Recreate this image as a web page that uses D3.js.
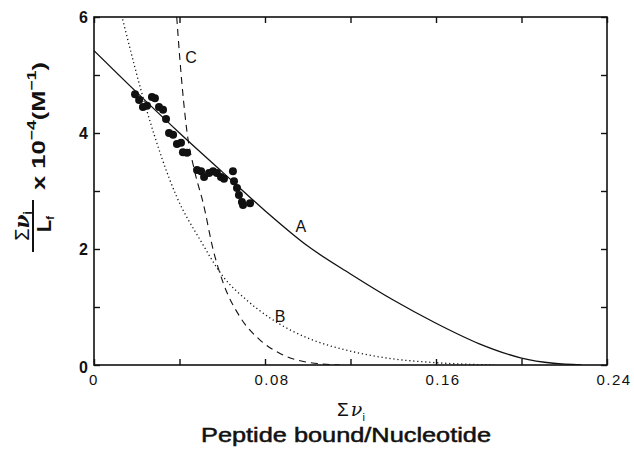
<!DOCTYPE html>
<html><head><meta charset="utf-8">
<script src="https://cdn.jsdelivr.net/npm/d3@7"></script>
<style>body{margin:0;background:#fff}svg{display:block}text{font-family:"Liberation Sans",Arial,sans-serif;fill:#111}</style>
</head><body><div id="c"></div>
<script>
// Data points: [sum nu_i, sum nu_i / Lf x 1e-4]
const pointsX = [0.0192,0.0211,0.0229,0.0248,0.0271,0.0285,0.0304,0.0323,0.0337,0.0351,0.0370,0.0388,0.0407,0.0416,0.0435,0.0482,0.0501,0.0515,0.0538,0.0557,0.0575,0.0594,0.0608,0.0650,0.0655,0.0669,0.0678,0.0692,0.0697,0.0730];
const pointsY = [4.67,4.57,4.45,4.47,4.62,4.60,4.45,4.40,4.24,4.00,3.97,3.81,3.83,3.67,3.66,3.36,3.34,3.24,3.31,3.34,3.31,3.24,3.21,3.34,3.17,3.05,2.93,2.81,2.76,2.79];
// Curve A (solid)
const curveAX = [0,0.02,0.04,0.06,0.08,0.10,0.12,0.14,0.16,0.18,0.20,0.215,0.228];
const curveAY = [5.42,4.70,4.00,3.33,2.66,2.05,1.57,1.12,0.72,0.37,0.12,0.03,0];
// Curve B (dotted)
const curveBX = [0.0134,0.0246,0.0387,0.0496,0.0605,0.0714,0.082,0.092,0.101,0.121,0.137,0.16,0.187];
const curveBY = [5.96,4.40,2.90,2.16,1.52,1.12,0.82,0.60,0.45,0.23,0.12,0.04,0];
// Curve C (dashed)
const curveCX = [0.0387,0.0402,0.0434,0.0473,0.0511,0.0558,0.0605,0.0683,0.0777,0.087,0.098,0.115];
const curveCY = [6.0,5.26,4.05,3.31,2.79,1.98,1.41,0.83,0.43,0.20,0.06,0];
const xTicks = [0,0.04,0.08,0.12,0.16,0.20,0.24];
const xTickLabels = ["0","","0.08","","0.16","","0.24"];
const yTicks = [0,1,2,3,4,5,6];
const yTickLabels = ["0","","2","","4","","6"];
const curveLabels = [{t:"A",x:0.0968,y:2.29},{t:"B",x:0.087,y:0.74},{t:"C",x:0.0454,y:5.2}];

const W=634,H=450, L=94,R=607,T=17,B=365;
const svg=d3.select("#c").append("svg").attr("width",W).attr("height",H);
const x=d3.scaleLinear().domain([0,0.24]).range([L,R]);
const y=d3.scaleLinear().domain([0,6]).range([B,T]);

svg.append("defs").append("clipPath").attr("id","clip").append("rect")
  .attr("x",L).attr("y",T).attr("width",R-L).attr("height",B-T);

// frame
svg.append("rect").attr("x",L).attr("y",T).attr("width",R-L).attr("height",B-T)
  .attr("fill","none").attr("stroke","#111").attr("stroke-width",1.6);

// axes ticks (inward)
const axB=svg.append("g").attr("transform",`translate(0,${B})`)
  .call(d3.axisBottom(x).tickValues(xTicks).tickSize(-6).tickFormat(""));
const axT=svg.append("g").attr("transform",`translate(0,${T})`)
  .call(d3.axisTop(x).tickValues(xTicks).tickSize(-6).tickFormat(""));
const axL=svg.append("g").attr("transform",`translate(${L},0)`)
  .call(d3.axisLeft(y).tickValues(yTicks).tickSize(-6).tickFormat(""));
const axR=svg.append("g").attr("transform",`translate(${R},0)`)
  .call(d3.axisRight(y).tickValues(yTicks).tickSize(-6).tickFormat(""));
[axB,axT,axL,axR].forEach(a=>{a.select(".domain").remove();a.selectAll("line").attr("stroke","#111").attr("stroke-width",1.4);});

// tick labels
svg.append("g").selectAll("text").data(xTicks).join("text")
  .attr("x",(d,i)=>x(d)+(i===0?0:7)).attr("y",B+20).attr("text-anchor","middle")
  .attr("font-size",15).attr("letter-spacing",1.5).text((d,i)=>xTickLabels[i]);
svg.append("g").selectAll("text").data(yTicks).join("text")
  .attr("x",L-6).attr("y",d=>y(d)+(d===0?8:6)).attr("text-anchor","end")
  .attr("font-size",16).attr("font-weight","bold").text((d,i)=>yTickLabels[i]);

const g=svg.append("g").attr("clip-path","url(#clip)");
const line=d3.line().x(d=>x(d[0])).y(d=>y(d[1])).curve(d3.curveMonotoneX);
g.append("path").datum(d3.zip(curveAX,curveAY)).attr("d",line).attr("fill","none").attr("stroke","#111").attr("stroke-width",1.3);
g.append("path").datum(d3.zip(curveBX,curveBY)).attr("d",line).attr("fill","none").attr("stroke","#111").attr("stroke-width",1.3).attr("stroke-dasharray","1.2,2.8");
g.append("path").datum(d3.zip(curveCX,curveCY)).attr("d",line).attr("fill","none").attr("stroke","#111").attr("stroke-width",1.1).attr("stroke-dasharray","7,5");

g.selectAll("circle").data(d3.zip(pointsX,pointsY)).join("circle")
  .attr("cx",d=>x(d[0])).attr("cy",d=>y(d[1])).attr("r",4).attr("fill","#111");

svg.append("g").selectAll("text").data(curveLabels).join("text")
  .attr("x",d=>x(d.x)).attr("y",d=>y(d.y)).attr("text-anchor","middle")
  .attr("font-size",16).text(d=>d.t);

// x axis titles
const xt=svg.append("text").attr("x",351).attr("y",416).attr("text-anchor","middle").attr("font-size",19);
xt.append("tspan").text("Σ");
xt.append("tspan").attr("font-family","DejaVu Serif").attr("font-style","italic").attr("dx",2).text("ν");
xt.append("tspan").attr("font-size",11).attr("dy",5).text("i");
svg.append("text").attr("x",201).attr("y",442).attr("font-size",20)
  .attr("stroke","#111").attr("stroke-width",0.5)
  .attr("textLength",290).attr("lengthAdjust","spacingAndGlyphs").text("Peptide bound/Nucleotide");

// y axis title (rotated)
const yg=svg.append("g").attr("transform","rotate(-90)").attr("font-weight","bold");
const num=yg.append("text").attr("x",-226).attr("y",29).attr("text-anchor","middle").attr("font-size",20);
num.append("tspan").attr("font-weight","normal").text("Σ");
num.append("tspan").attr("font-family","DejaVu Serif").attr("font-style","italic").text("ν");
num.append("tspan").attr("font-size",12).attr("dy",3).text("i");
yg.append("line").attr("x1",-252).attr("x2",-200).attr("y1",33).attr("y2",33).attr("stroke","#111").attr("stroke-width",2);
const den=yg.append("text").attr("x",-224).attr("y",51).attr("text-anchor","middle").attr("font-size",20);
den.append("tspan").text("L");
den.append("tspan").attr("font-size",11).attr("dy",3).text("f");
const mt=yg.append("text").attr("x",-190).attr("y",45).attr("font-size",19)
  .attr("textLength",128).attr("lengthAdjust","spacingAndGlyphs");
mt.append("tspan").text("x 10");
mt.append("tspan").attr("font-size",13).attr("dy",-9).text("−4");
mt.append("tspan").attr("dy",9).text("(M");
mt.append("tspan").attr("font-size",13).attr("dy",-9).text("−1");
mt.append("tspan").attr("dy",9).text(")");
</script></body></html>
